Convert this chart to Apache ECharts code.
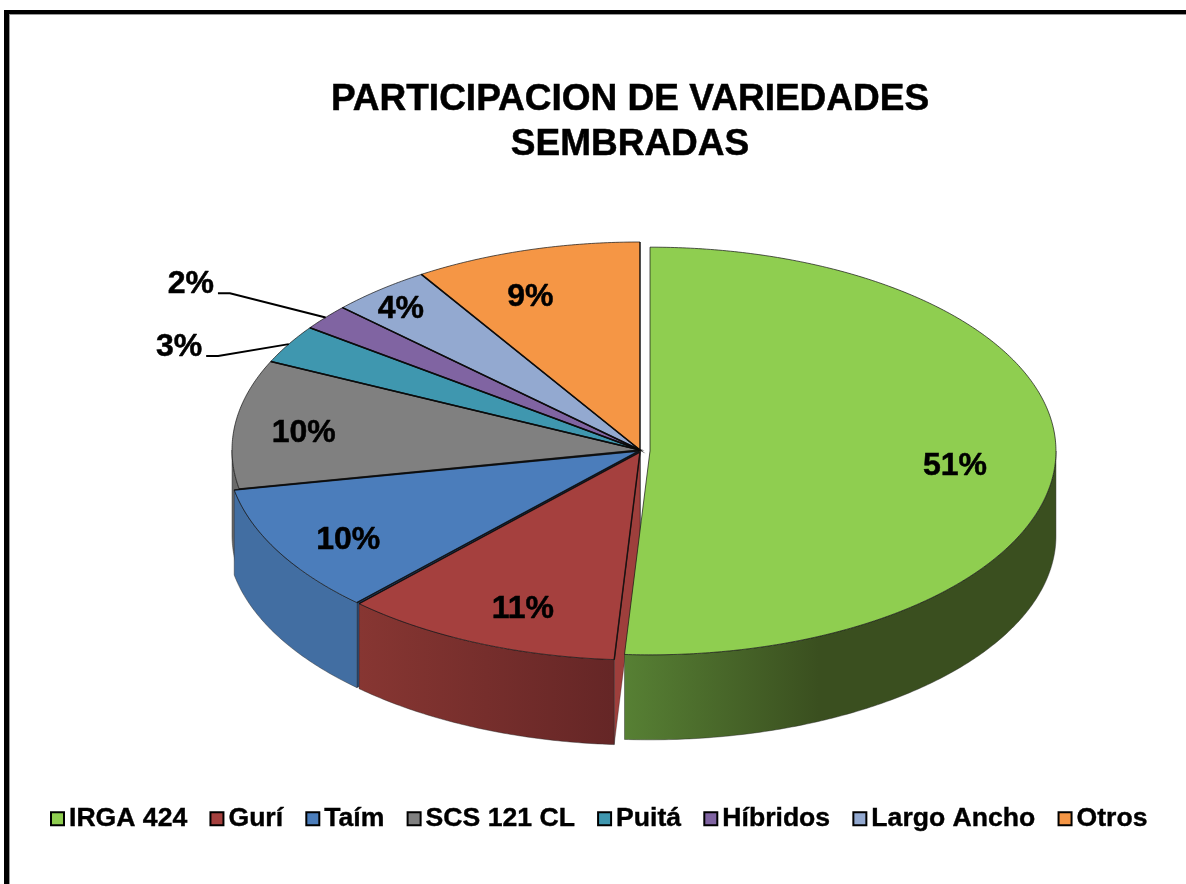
<!DOCTYPE html>
<html><head><meta charset="utf-8">
<style>html,body{margin:0;padding:0;background:#fff}#c{width:1186px;height:884px}</style>
<script src="https://cdn.jsdelivr.net/npm/echarts@6/dist/echarts.min.js"></script>
</head><body><div id="c"></div>
<script>
const categories = ['IRGA 424','Gurí','Taím','SCS 121 CL','Puitá','Híbridos','Largo Ancho','Otros'];
const shares = [51,11,10,10,3,2,4,9];
const titleText = 'PARTICIPACION DE VARIEDADES\nSEMBRADAS';

const topColors = ['#8FCE50','#A5403E','#4B7DBB','#808080','#3F97AF','#8064A2','#93A9D0','#F59645'];
const wallLeft  = ['#578034','#873632','#426EA2','#6a6a6a','#357f93','#6a5288','#7a8cad','#c87a38'];
const wallRight = ['#3A4F1F','#652626','#426EA2','#6a6a6a','#357f93','#6a5288','#7a8cad','#c87a38'];
const faceColors = ['#3A4F1F','#9E3F3C','#2C4F7C','#5a5a5a','#2d6c7d','#5a4674','#6a7a98','#a86630'];

// layout of the tilted disc
const CX = 640, CY = 450, RX = 408, RY = 208, DEPTH = 85;
const shiftX = [10,0,-1,0,0,0,0,0];
const shiftY = [1,2,1,0,0,0,0,0];
const scaleX = [0.995,1.006,1.01,1,1,1,1,1];
const scaleY = [0.98,1,1,1,1,1,1,1];
const labelR = 0.7;
const labelDx = [21,-3,-38,-53,-215,-229,-57,-30];
const labelDy = [10,23,18,0,-30,-74,-30,-14];
const hasLeader = [0,0,0,0,1,1,0,0];
const FONT = '"Liberation Sans", Arial, sans-serif';

const total = shares.reduce((a,b)=>a+b,0);
const starts = [];
shares.reduce((acc,v,i)=>{starts[i]=acc;return acc+v;},0);
const rad = v => v/total*2*Math.PI;

function renderSlice(i){
  return function(params, api){
    const value = api.value(0);
    const t0 = rad(starts[i]), t1 = rad(starts[i]+value);
    const cx = CX+shiftX[i], cy = CY+shiftY[i], rx = RX*scaleX[i], ry = RY*scaleY[i];
    const pt = (t,r=1,d=0)=>[cx+r*rx*Math.sin(t), cy-r*ry*Math.cos(t)+d];
    const arc = (a,b,d=0)=>{
      const n = Math.max(4,Math.ceil((b-a)/0.01)), out=[];
      for(let k=0;k<=n;k++) out.push(pt(a+(b-a)*k/n,1,d));
      return out;
    };
    const kids = [];
    // radial cut face at the start of the slice; the frontmost one lies on top
    if(Math.sin(t0) < -1e-6){
      kids.push({type:'polygon',z2:10-i,shape:{points:[[cx,cy],[cx,cy+DEPTH],pt(t0,1,DEPTH),pt(t0)]},
        style:{fill:faceColors[i],stroke:'rgba(0,0,0,0.45)',lineWidth:0.6}});
    }
    // outer wall: the part of the rim on the front half, frontmost on top
    const a = Math.max(t0,Math.PI/2), b = Math.min(t1,Math.PI*1.5);
    if(b>a){
      const upper = arc(a,b), lower = arc(a,b,DEPTH).reverse();
      const xs = upper.map(p=>p[0]);
      const xMin = Math.min.apply(null,xs), xMax = Math.max.apply(null,xs);
      const stops = i===0
        ? [{offset:0,color:wallLeft[i]},{offset:0.45,color:wallRight[i]},{offset:1,color:wallRight[i]}]
        : [{offset:0,color:wallLeft[i]},{offset:1,color:wallRight[i]}];
      kids.push({type:'polygon',z2:30-i,shape:{points:upper.concat(lower)},
        style:{fill:new echarts.graphic.LinearGradient(xMin,0,xMax,0,stops,true),stroke:'rgba(40,40,40,0.55)',lineWidth:0.8}});
    }
    // top face
    kids.push({type:'polygon',z2:40,shape:{points:[[cx,cy]].concat(arc(t0,t1))},
      style:{fill:topColors[i],stroke:'rgba(20,20,20,0.7)',lineWidth:1,lineJoin:'round'}});
    // heavier spokes between neighbouring slices
    if(i>0){
      kids.push({type:'polyline',z2:41,shape:{points:[pt(t0),[cx,cy],pt(t1)]},
        style:{fill:'none',stroke:'rgba(10,10,10,0.75)',lineWidth:1.5}});
    }
    // label
    const tm = (t0+t1)/2;
    const anchor = pt(tm,labelR);
    const lx = anchor[0]+labelDx[i], ly = anchor[1]+labelDy[i];
    if(hasLeader[i]){
      kids.push({type:'polyline',z2:50,shape:{points:[[lx+27,ly+10],[lx+39,ly+10],pt(tm)]},
        style:{fill:'none',stroke:'#000',lineWidth:2}});
    }
    kids.push({type:'text',z2:60,style:{text:value+'%',x:lx,y:ly+1,align:'center',verticalAlign:'middle',
      fill:'#000',stroke:'#000',lineWidth:0.5,font:'bold 32px '+FONT}});
    return {type:'group',children:kids};
  };
}

const chart = echarts.init(document.getElementById('c'),null,{renderer:'canvas'});
chart.setOption({
  animation:false,
  backgroundColor:'#fff',
  title:{text:titleText,left:625,top:72,textAlign:'center',
    textStyle:{fontFamily:FONT,fontWeight:'bold',fontSize:37,lineHeight:45,color:'#000',textBorderColor:'#000',textBorderWidth:0.5}},
  legend:{data:categories,left:45,top:800,itemWidth:13,itemHeight:13,itemGap:22,icon:'rect',
    itemStyle:{borderColor:'#000',borderWidth:2},
    textStyle:{fontFamily:FONT,fontWeight:'bold',fontSize:26.6,color:'#000',textBorderColor:'#000',textBorderWidth:0.4}},
  graphic:[
    {type:'rect',silent:true,shape:{x:4,y:10,width:1182,height:5},style:{fill:'#000'}},
    {type:'rect',silent:true,shape:{x:4,y:10,width:5,height:874},style:{fill:'#000'}},
    {type:'rect',silent:true,shape:{x:9,y:14,width:1177,height:1},style:{fill:'#999'}},
    {type:'rect',silent:true,shape:{x:9,y:14,width:1,height:870},style:{fill:'#999'}}
  ],
  series:categories.map((name,i)=>({
    type:'custom',name,coordinateSystem:'none',silent:true,
    itemStyle:{color:topColors[i]},
    data:[[shares[i]]],
    renderItem:renderSlice(i)
  }))
});
</script></body></html>
